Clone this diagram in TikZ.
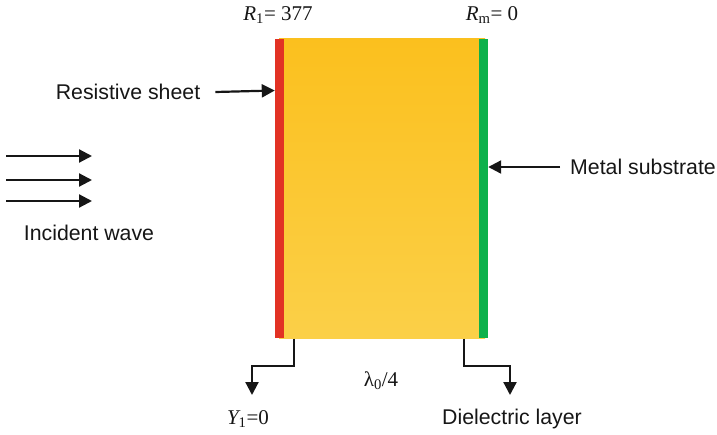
\documentclass[tikz,border=0pt]{standalone}
\usepackage{fontspec}
\setmainfont{Liberation Serif}
\newfontfamily\labelsans{Liberation Sans}
\usetikzlibrary{arrows.meta}
\definecolor{slabtop}{HTML}{FBC01E}
\definecolor{slabbottom}{HTML}{FBD048}
\definecolor{sheetred}{HTML}{E23224}
\definecolor{metalgreen}{HTML}{0DB14B}
\definecolor{inkblack}{HTML}{161616}

\begin{document}
\begin{tikzpicture}[
  x=1pt,
  y=-1pt,
  wavearrow/.style={
    -{Triangle[length=13pt,width=13pt]},
    line width=2.2pt,
    color=inkblack
  },
  sanslabel/.style={
    inner sep=0pt,
    text=inkblack,
    font=\labelsans\fontsize{21.3}{24}\selectfont
  },
  seriflabel/.style={
    inner sep=0pt,
    text=inkblack,
    font=\fontsize{21}{24}\selectfont
  },
  strip/.style={
    draw=none,
    inner sep=0pt,
    minimum width=9pt,
    minimum height=299pt
  }
]
  \useasboundingbox (0,0) rectangle (717,434);

  % layers
  \node[inner sep=0pt,minimum width=206pt,minimum height=300pt,top color=slabtop,bottom color=slabbottom] (Slab) at (382,188.5) {};
  \node[strip,fill=sheetred] (Sheet) at (279.5,188.5) {};
  \node[strip,fill=metalgreen] (Metal) at (483.5,188.5) {};

  % labels
  \node[seriflabel] (Rone) at (278,15) {$\mathit{R}_{\mathrm{1}}$= 377};
  \node[seriflabel] (Rm) at (492,15) {$\mathit{R}_{\mathrm{m}}$= 0};
  \node[sanslabel] (SheetLabel) at (128,92) {Resistive sheet};
  \node[sanslabel] (MetalLabel) at (643,167) {Metal substrate};
  \node[sanslabel] (WaveLabel) at (89,233) {Incident wave};
  \node[sanslabel] (DielLabel) at (512,419) {Dielectric layer};
  \node[seriflabel] (Yone) at (248,419) {$\mathit{Y}_{\mathrm{1}}$=0};
  \node[seriflabel] (Lambda) at (381,381) {λ$_{\mathrm{0}}$/4};

  % incident wave
  \foreach \i/\y in {1/156,2/180,3/201}{
    \coordinate (WaveIn-\i) at (6,\y);
    \coordinate (WaveOut-\i) at (92,\y);
    \draw[wavearrow] (WaveIn-\i) -- (WaveOut-\i);
  }

  % pointers
  \draw[wavearrow] ([xshift=15pt]SheetLabel.east) -- (Sheet.west |- 0,90.5);
  \draw[wavearrow] ([xshift=-10pt]MetalLabel.west) -- (Metal.east |- 0,167);

  % bent leaders
  \coordinate (LeftEnd) at (252,395);
  \coordinate (RightEnd) at (510,395);
  \draw[wavearrow] (Slab.south -| 294,0) -- (294,366) -| (LeftEnd);
  \draw[wavearrow] (Slab.south -| 464,0) -- (464,366) -| (RightEnd);
\end{tikzpicture}
\end{document}
